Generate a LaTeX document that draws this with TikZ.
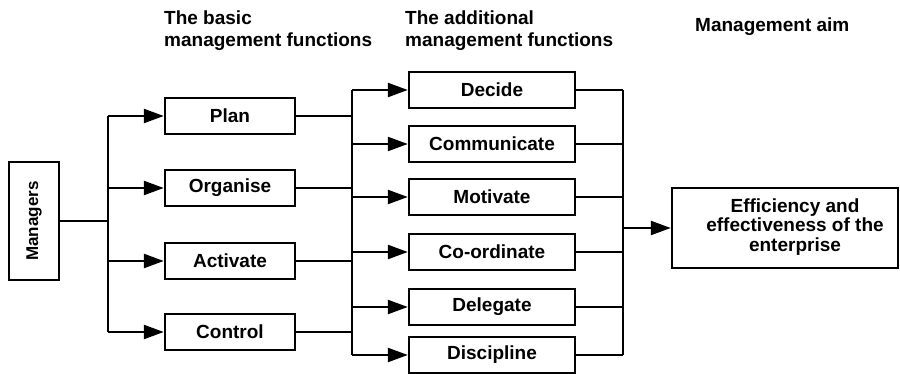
\documentclass[tikz,border=0pt]{standalone}
\usepackage{fontspec}
\usepackage{graphicx}
\setmainfont{Liberation Sans}
\usetikzlibrary{arrows.meta}
\begin{document}
\begin{tikzpicture}[x=1pt,y=-1pt,
  txt/.style={font=\bfseries\fontsize{19}{19.5}\selectfont},
  box/.style={txt, draw, line width=2.4pt, minimum width=130pt, minimum height=36pt, inner sep=0pt},
  addbox/.style={box, minimum width=166pt, minimum height=36pt},
  wire/.style={line width=2.4pt},
  arr/.style={wire, -{Triangle[length=20pt,width=14pt]}},
  head/.style={anchor=north west, inner sep=0pt, align=left, font=\bfseries\fontsize{19}{22}\selectfont}]
\useasboundingbox (0,0) rectangle (900,374);

% column headings
\node[head] (h1) at (164,11) {The basic\\management functions};
\node[head] (h2) at (405,11) {The additional\\management functions};
\node[head] (h3) at (695,18) {Management aim};

% managers
\node[box, minimum width=50pt, minimum height=118pt, font=\bfseries\fontsize{17}{18}\selectfont]
  (mgr) at (34,221) {\rotatebox{90}{Managers}};

% basic management functions
\node[box] (plan) at (230,116) {Plan};
\node[box] (org)  at (230,188) {Organise};
\node[box] (act)  at (230,261) {Activate};
\node[box] (ctl)  at (230,332) {Control};

% additional management functions
\node[addbox] (dec) at (492,90)  {Decide};
\node[addbox] (com) at (492,144) {Communicate};
\node[addbox] (mot) at (492,197) {Motivate};
\node[addbox] (cor) at (492,252) {Co-ordinate};
\node[addbox] (del) at (492,307) {Delegate};
\node[addbox] (dis) at (492,355) {Discipline};

% management aim (text set slightly right of the box centre)
\node[box, minimum width=226pt, minimum height=80pt] (aim) at (785,228)
  {\hspace*{20pt}\begin{tabular}{@{}c@{}}Efficiency and\\effectiveness of the\\enterprise\end{tabular}};

% bus positions
\coordinate (t)  at (108,0);
\coordinate (b1) at (352,0);
\coordinate (b2) at (623,0);

% managers to basic functions
\draw[wire] (mgr.east) -- (t |- mgr.east);
\draw[wire] (t |- plan.west) -- (t |- ctl.west);
\foreach \n in {plan,org,act,ctl}
  \draw[arr] (t |- \n.west) -- (\n.west);

% basic functions to additional functions
\foreach \n in {plan,org,act,ctl}
  \draw[wire] (\n.east) -- (b1 |- \n.east);
\draw[wire] (b1 |- dec.west) -- (b1 |- dis.west);
\foreach \n in {dec,com,mot,cor,del,dis}
  \draw[arr] (b1 |- \n.west) -- (\n.west);

% additional functions to the aim
\foreach \n in {dec,com,mot,cor,del,dis}
  \draw[wire] (\n.east) -- (b2 |- \n.east);
\draw[wire] (b2 |- dec.east) -- (b2 |- dis.east);
\draw[arr] (b2 |- aim.west) -- (aim.west);
\end{tikzpicture}
\end{document}
